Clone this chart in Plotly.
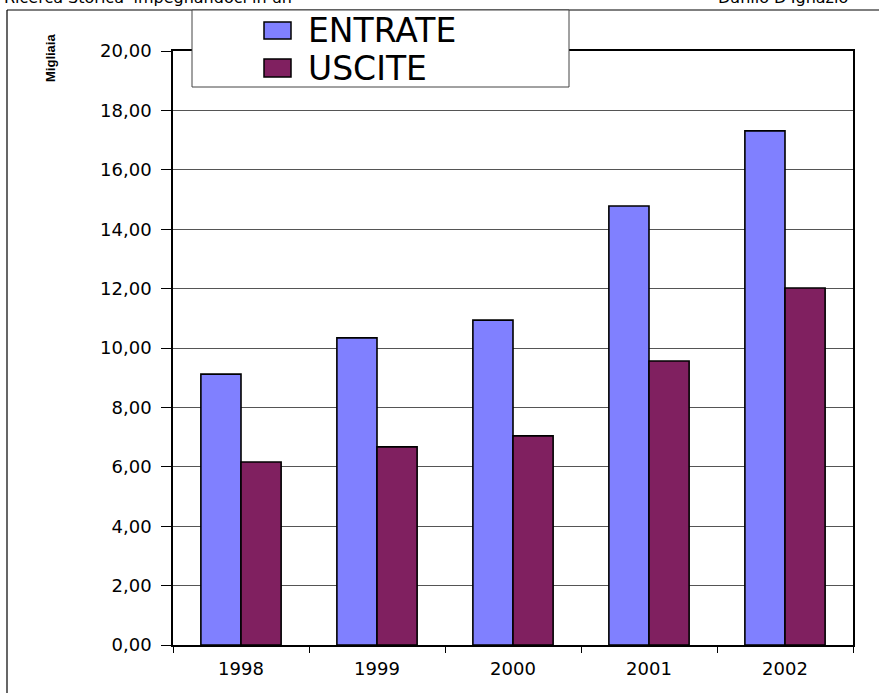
import plotly.graph_objects as go

# ---- data ----
years = ["1998", "1999", "2000", "2001", "2002"]
entrate = [9.12, 10.34, 10.94, 14.78, 17.31]
uscite = [6.16, 6.67, 7.04, 9.56, 12.02]
series_names = ["ENTRATE", "USCITE"]
series_colors = ["#8080FF", "#802060"]
y_title = "Migliaia"
header_left = "Ricerca Storica 'impegnandoci in un"
header_right = "Danilo D'Ignazio"

W, H = 879, 693
L, R, T, B = 173, 26, 51, 48
PW, PH = W - L - R, H - T - B


def px(x):
    return (x - L) / PW


def py(y):
    return (H - B - y) / PH


fig = go.Figure()
for name, vals, col in zip(series_names, [entrate, uscite], series_colors):
    fig.add_trace(go.Bar(
        x=years, y=vals, name=name,
        marker=dict(color=col, line=dict(color="#000000", width=1.6)),
        showlegend=False,
    ))

tick_font = dict(family="DejaVu Sans, Arial, sans-serif", size=18, color="#000000")

fig.update_layout(
    width=W, height=H,
    margin=dict(l=L, r=R, t=T, b=B, pad=0),
    paper_bgcolor="white", plot_bgcolor="white",
    barmode="group", bargap=0.41, bargroupgap=0.0,
    separators=",.",
    xaxis=dict(
        showline=True, linecolor="#000000", linewidth=1.5, mirror=True,
        ticks="outside", ticklen=6, tickcolor="#000000", tickson="boundaries",
        tickfont=tick_font, showgrid=False, ticklabelstandoff=7,
    ),
    yaxis=dict(
        range=[0, 20], dtick=2, tickformat=".2f",
        showline=True, linecolor="#000000", linewidth=1.5, mirror=True,
        ticks="outside", ticklen=10, tickcolor="#000000",
        showgrid=True, gridcolor="#555555", gridwidth=1,
        zeroline=False, tickfont=tick_font, ticklabelstandoff=6,
    ),
)

shapes = []
annotations = []

# outer frame (left and top edges, right/bottom run off page)
shapes.append(dict(type="line", xref="paper", yref="paper",
                   x0=px(7), x1=px(7), y0=py(10), y1=py(H + 20),
                   line=dict(color="#000000", width=1.2), layer="above"))
shapes.append(dict(type="line", xref="paper", yref="paper",
                   x0=px(7), x1=px(W + 20), y0=py(10), y1=py(10),
                   line=dict(color="#000000", width=1.2), layer="above"))

# legend box
shapes.append(dict(type="rect", xref="paper", yref="paper",
                   x0=px(192), x1=px(569), y0=py(10), y1=py(87),
                   fillcolor="white", line=dict(color="#444444", width=1),
                   layer="above"))
legend_rows = [(22, 39, 30), (59, 77, 68)]
for (y0, y1, yc), name, col in zip(legend_rows, series_names, series_colors):
    shapes.append(dict(type="rect", xref="paper", yref="paper",
                       x0=px(264), x1=px(291), y0=py(y1), y1=py(y0),
                       fillcolor=col, line=dict(color="#000000", width=1.5),
                       layer="above"))
    annotations.append(dict(text=name, xref="paper", yref="paper",
                            x=px(306), y=py(yc), xanchor="left", yanchor="middle",
                            showarrow=False,
                            font=dict(family="DejaVu Sans, Arial, sans-serif",
                                      size=33, color="#000000")))

# y axis title
annotations.append(dict(text="<b>" + y_title + "</b>", xref="paper", yref="paper",
                        x=px(50), y=py(58), textangle=-90,
                        xanchor="center", yanchor="middle", showarrow=False,
                        font=dict(family="Arial, Liberation Sans, sans-serif",
                                  size=13, color="#000000")))

# header texts (clipped at the top of the page, as in the reference)
annotations.append(dict(text=header_left, xref="paper", yref="paper",
                        x=px(2), y=py(-3), xanchor="left", yanchor="middle",
                        showarrow=False,
                        font=dict(family="DejaVu Sans, Arial, sans-serif",
                                  size=16, color="#000000")))
annotations.append(dict(text=header_right, xref="paper", yref="paper",
                        x=px(716), y=py(-3), xanchor="left", yanchor="middle",
                        showarrow=False,
                        font=dict(family="DejaVu Sans, Arial, sans-serif",
                                  size=16, color="#000000")))

fig.update_layout(shapes=shapes, annotations=annotations)

fig.write_html(
    "out.html",
    config={"displayModeBar": False},
    post_script="document.body.style.margin='0';document.body.style.padding='0';"
                "document.body.style.overflow='hidden';",
)
